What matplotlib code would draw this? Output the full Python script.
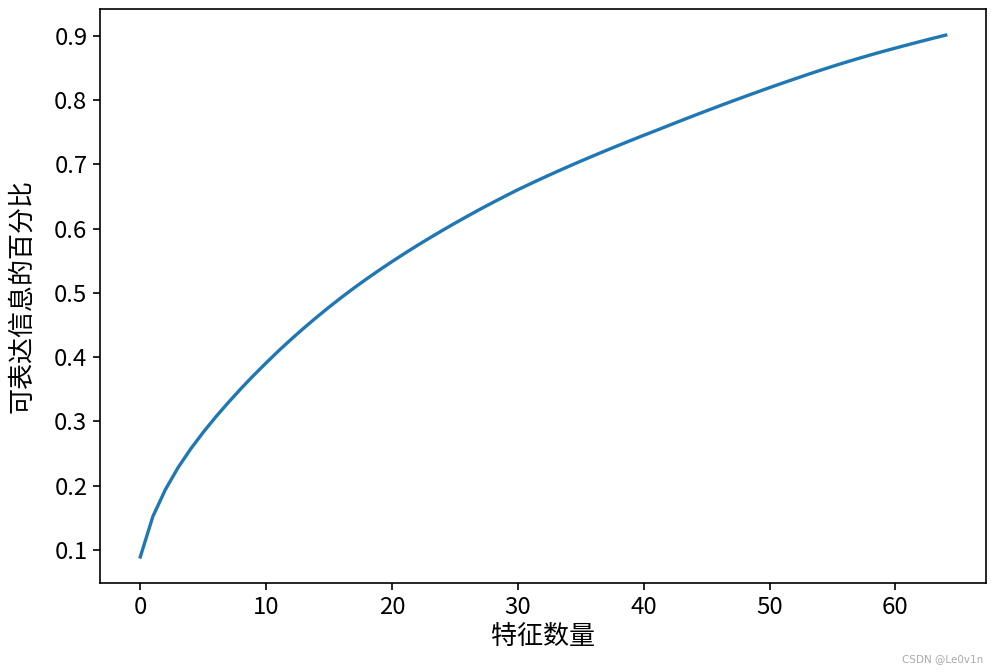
import matplotlib
matplotlib.use("Agg")
import matplotlib.pyplot as plt

plt.rcParams['font.family'] = ['Noto Sans CJK SC', 'DejaVu Sans']
plt.rcParams['axes.unicode_minus'] = False

# cumulative ratio of explained information, one value per feature count
n_features = list(range(65))
ratio = [0.089, 0.152, 0.194, 0.228, 0.257, 0.283, 0.307, 0.3295, 0.351, 0.3715,
         0.391, 0.410, 0.428, 0.4453, 0.4619, 0.4779, 0.4932, 0.5079, 0.522, 0.5356,
         0.5487, 0.5614, 0.5737, 0.5856, 0.5972, 0.6085, 0.6195, 0.6302, 0.6406, 0.6507,
         0.6606, 0.6699, 0.6790, 0.6879, 0.6966, 0.7051, 0.7134, 0.7216, 0.7296, 0.7375,
         0.7453, 0.7529, 0.7607, 0.7684, 0.7760, 0.7835, 0.7909, 0.7982, 0.8054, 0.8125,
         0.8195, 0.8264, 0.8331, 0.8398, 0.8463, 0.8526, 0.8587, 0.8646, 0.8703, 0.8758,
         0.8811, 0.8863, 0.8914, 0.8964, 0.9013]

fig = plt.figure(figsize=(998 / 150, 672 / 150), dpi=150)
ax = fig.add_axes([0.1002, 0.1324, 0.8878, 0.8542])
ax.plot(n_features, ratio, color="#1f77b4", linewidth=1.6)
ax.set_xlabel("特征数量", fontsize=12.5, labelpad=2)
ax.set_ylabel("可表达信息的百分比", fontsize=12.5, labelpad=9)
ax.tick_params(labelsize=11.5, pad=2.5)

fig.text(0.985, 0.012, "CSDN @Le0v1n", color="#aaaaaa", fontsize=5,
         ha="right", va="bottom", family=["DejaVu Sans"])

fig.savefig("out.png", dpi=150)
